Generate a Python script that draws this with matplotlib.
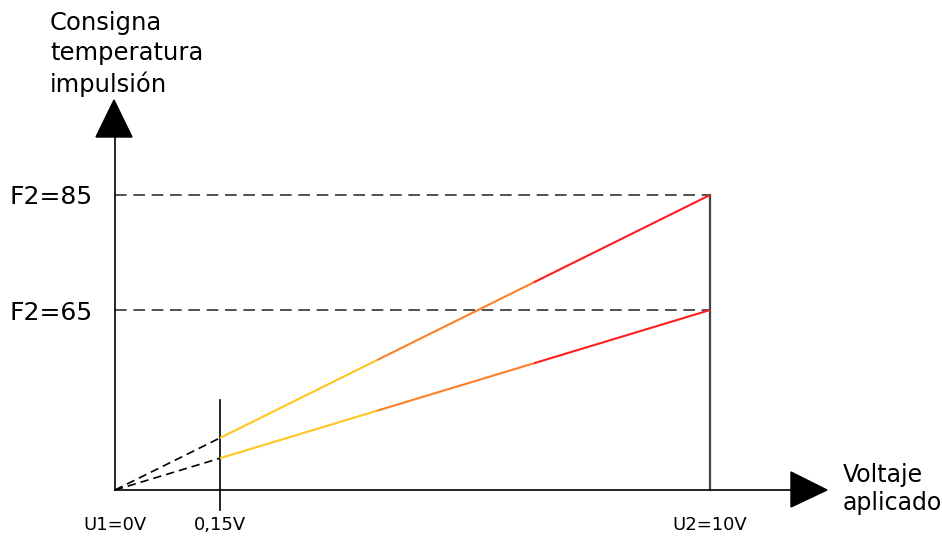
import numpy as np
import matplotlib
matplotlib.use("Agg")
import matplotlib.pyplot as plt
from matplotlib.patches import Polygon

# chart values
volts = [0, 0.15, 10]
volt_labels = ["U1=0V", "0,15V", "U2=10V"]
setpoints = [65, 85]
setpoint_labels = ["F2=65", "F2=85"]
segment_colors = ["#FFC61E", "#FF7F27", "#FF1E1E"]
segment_stops = [0, 0.32, 0.64, 1]

# schematic (not to scale) axis layout
x_layout = [0, 1.765, 10]
y_breaks = [0, 65, 85]
y_layout = [0, 51.86, 85]

W, H = 942, 537


def px(x, y):
    # pixel position -> figure fraction
    return (x / W, 1 - y / H)


def fx(v):
    return np.interp(v, volts, x_layout)


def fx_inv(p):
    return np.interp(p, x_layout, volts)


def fy(v):
    return np.interp(v, y_breaks, y_layout)


def fy_inv(p):
    return np.interp(p, y_layout, y_breaks)


plt.rcParams["font.family"] = ["DejaVu Sans"]
fig = plt.figure(figsize=(W / 100, H / 100), dpi=100)
ox, oy, ex, ey = 115, 490, 710, 195
ax = fig.add_axes([ox / W, 1 - oy / H, (ex - ox) / W, (oy - ey) / H])
ax.set_xscale("function", functions=(fx, fx_inv))
ax.set_yscale("function", functions=(fy, fy_inv))
ax.set_xlim(volts[0], volts[-1])
ax.set_ylim(0, max(setpoints))
for s in ax.spines.values():
    s.set_visible(False)
ax.minorticks_off()
ax.set_xticks(volts, labels=volt_labels)
ax.set_yticks(setpoints, labels=setpoint_labels)
ax.tick_params(axis="x", length=0, pad=19, labelsize=13)
ax.tick_params(axis="y", length=0, pad=16, labelsize=18)

# dashed reference levels and end line
for f in setpoints:
    ax.plot([volts[0], volts[-1]], [f, f], color="#333333", lw=1.2,
            dashes=(7, 4), clip_on=False)
ax.plot([volts[-1], volts[-1]], [0, max(setpoints)], color="#444444",
        lw=1.6, clip_on=False)

# vertical marker at 0,15V, reaching below the axis
blend = matplotlib.transforms.blended_transform_factory(ax.transData, ax.transAxes)
ax.plot([volts[1], volts[1]], [-0.068, 0.305], color="black", lw=1.2,
        transform=blend, clip_on=False)

# setpoint lines, straight in the schematic space
scaled = ax.transLimits + ax.transAxes
for f in setpoints:
    x0, y0 = fx(volts[0]), fy(0)
    x1, y1 = fx(volts[-1]), fy(f)
    tb = (fx(volts[1]) - x0) / (x1 - x0)

    def pt(t):
        return x0 + t * (x1 - x0), y0 + t * (y1 - y0)

    a, b = pt(0), pt(tb)
    ax.plot([a[0], b[0]], [a[1], b[1]], color="black", lw=1.2,
            dashes=(5, 3), transform=scaled, clip_on=False)
    ts = [tb + s * (1 - tb) for s in segment_stops]
    for i, c in enumerate(segment_colors):
        a, b = pt(ts[i]), pt(ts[i + 1])
        ax.plot([a[0], b[0]], [a[1], b[1]], color=c, lw=1.5,
                transform=scaled, clip_on=False, solid_capstyle="butt")

# axis lines with arrow heads
ax.plot([ox / W, ox / W], [px(0, oy)[1], px(0, 137)[1]], color="black",
        lw=1.2, transform=fig.transFigure, clip_on=False)
ax.plot([ox / W, 791 / W], [px(0, oy)[1]] * 2, color="black",
        lw=1.2, transform=fig.transFigure, clip_on=False)
fig.patches.append(Polygon([px(96, 137), px(132, 137), px(114, 100)],
                           closed=True, color="black",
                           transform=fig.transFigure))
fig.patches.append(Polygon([px(791, 472), px(791, 507), px(827, 490)],
                           closed=True, color="black",
                           transform=fig.transFigure))

fig.text(*px(50, 11), "Consigna\ntemperatura\nimpulsión", fontsize=17.5,
         ha="left", va="top", linespacing=1.32)
fig.text(*px(843, 489), "Voltaje\naplicado", fontsize=17,
         ha="left", va="center", linespacing=1.22)

fig.savefig("out.png", dpi=100)
